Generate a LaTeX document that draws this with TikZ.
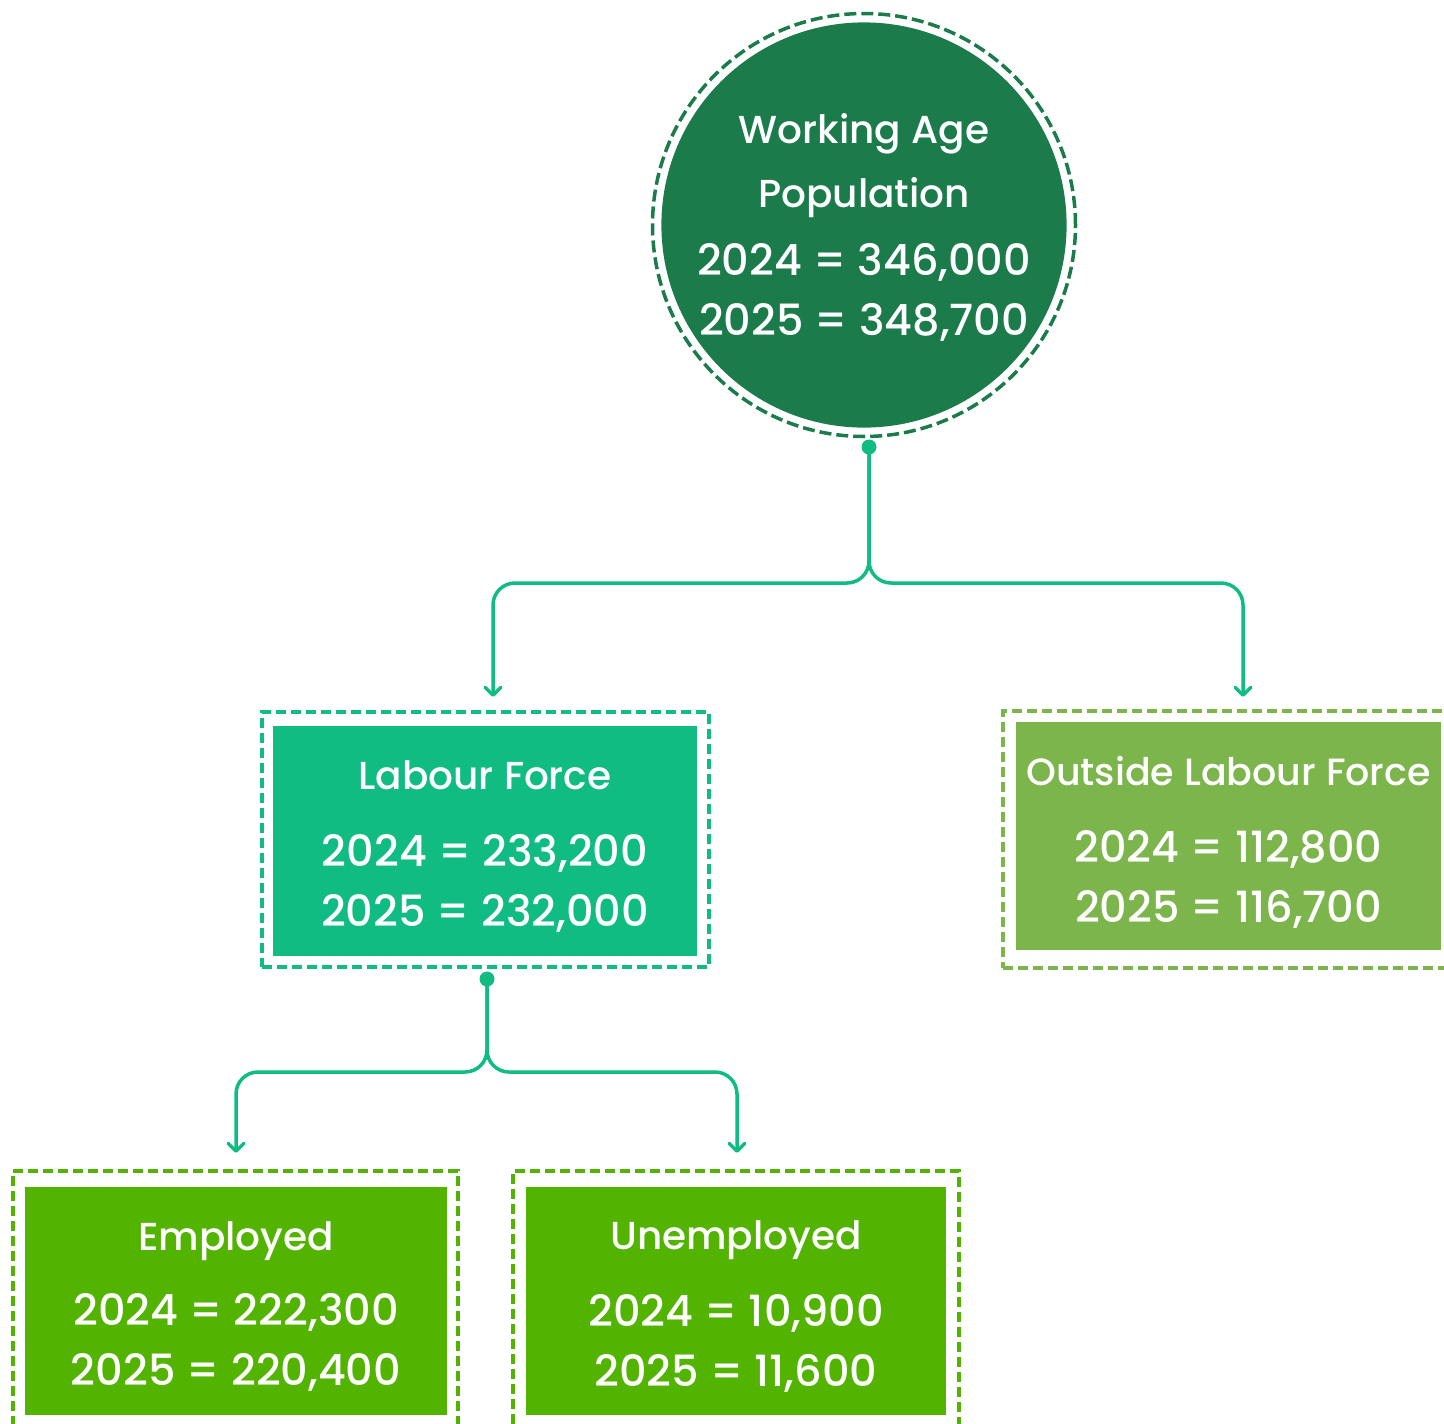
\documentclass[tikz,border=0pt]{standalone}
\usepackage{fontspec}
\setmainfont{Poppins}
\newfontfamily\popmed{Poppins Medium}
\usetikzlibrary{arrows.meta}
\definecolor{wapgreen}{HTML}{1B7B4A}
\definecolor{lfgreen}{HTML}{10BC82}
\definecolor{olfgreen}{HTML}{7CB54C}
\definecolor{empgreen}{HTML}{52B300}
\newcommand{\headfont}{\popmed\fontsize{39}{60}\selectfont}
\newcommand{\numfont}{\popmed\fontsize{43}{60}\selectfont}
\newcommand{\hstrut}[1]{\rule{0pt}{#1}}
\tikzstyle{box} = [rectangle, inner sep=0pt, text=white, align=center, font=\numfont]
\tikzstyle{frame} = [rectangle, line width=3.5pt, dash pattern=on 10pt off 5pt, inner sep=0pt]
\tikzstyle{dot} = [circle, fill=lfgreen, inner sep=0pt, minimum size=15pt]
\tikzstyle{conn} = [draw=lfgreen, line width=3.5pt, rounded corners=22pt, -{Straight Barb[round, length=8pt, width=16pt]}]

\begin{document}
\begin{tikzpicture}[x=1pt, y=-1pt]
    \useasboundingbox (0,0) rectangle (1444,1424);

    % top circle
    \node (wapring) [circle, draw=wapgreen, line width=3.5pt, dash pattern=on 12pt off 5pt, minimum size=423pt, inner sep=0pt] at (864,225) {};
    \node (wap) [box, circle, fill=wapgreen, minimum size=404pt] at (864,225) {{\headfont\hstrut{34pt}Working Age}\\[4pt]{\headfont Population}\\[8pt]2024 = 346,000\\2025 = 348,700};

    % second row
    \node (lfframe) [frame, draw=lfgreen, minimum width=447pt, minimum height=255pt] at (485.5,839.5) {};
    \node (lf) [box, fill=lfgreen, minimum width=424pt, minimum height=230pt] at (485,841) {{\headfont\hstrut{39pt}Labour Force}\\[17pt]2024 = 233,200\\2025 = 232,000};
    \node (olfframe) [frame, draw=olfgreen, minimum width=451pt, minimum height=257pt] at (1228.5,839.5) {};
    \node (olf) [box, fill=olfgreen, minimum width=425pt, minimum height=228pt] at (1228.5,836) {{\headfont\fontsize{38}{60}\selectfont\hstrut{41pt}Outside Labour Force}\\[17pt]2024 = 112,800\\2025 = 116,700};

    % third row
    \node (empframe) [frame, draw=empgreen, minimum width=445pt, minimum height=260pt] at (235.5,1301) {};
    \node (emp) [box, fill=empgreen, minimum width=422pt, minimum height=228pt] at (236,1301) {{\headfont\hstrut{40pt}Employed}\\[15pt]2024 = 222,300\\2025 = 220,400};
    \node (unempframe) [frame, draw=empgreen, minimum width=446pt, minimum height=260pt] at (736,1301) {};
    \node (unemp) [box, fill=empgreen, minimum width=420pt, minimum height=228pt] at (736,1301) {{\headfont\hstrut{40pt}Unemployed}\\[17pt]2024 = 10,900\\2025 = 11,600};

    % connectors
    \node (wapdot) [dot] at (869,447) {};
    \node (lfdot) [dot] at (487,979) {};
    \coordinate (lfin) at (493,697);
    \coordinate (olfin) at (1243,697);
    \coordinate (empin) at (236,1153);
    \coordinate (unempin) at (737,1153);

    \draw [conn] (wapdot.center) -- ++(0,136) -| (lfin);
    \draw [conn] (wapdot.center) -- ++(0,136) -| (olfin);
    \draw [conn] (lfdot.center) -- ++(0,93) -| (empin);
    \draw [conn] (lfdot.center) -- ++(0,93) -| (unempin);

\end{tikzpicture}
\end{document}
